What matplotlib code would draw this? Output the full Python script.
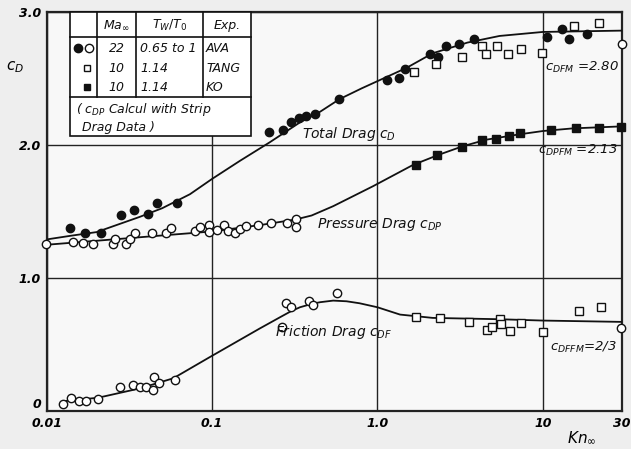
import numpy as np
import matplotlib
matplotlib.use("Agg")
import matplotlib.pyplot as plt
from matplotlib.patches import Rectangle

plt.rcParams['font.family'] = ['DejaVu Sans']
plt.rcParams['mathtext.fontset'] = 'dejavusans'

# ---- total drag c_D ----
kn_total_line = [0.01, 0.0144, 0.02, 0.0366, 0.05, 0.0735, 0.1, 0.147, 0.223, 0.34, 0.45, 0.59, 0.8, 1.0, 1.5, 2.16, 3.5, 5.48, 10, 30]
cd_total_line = [1.29, 1.32, 1.345, 1.46, 1.525, 1.63, 1.745, 1.88, 2.02, 2.17, 2.25, 2.345, 2.425, 2.48, 2.58, 2.69, 2.77, 2.82, 2.85, 2.86]

kn_total_ava = [0.01383, 0.01704, 0.02129, 0.02801, 0.03383, 0.04112, 0.0466, 0.06104,
                0.2213, 0.2667, 0.2993, 0.3359, 0.3722, 0.4179, 0.586,
                1.143, 1.349, 1.472, 2.089, 2.339, 2.611, 3.113, 3.846, 10.66, 13.03, 14.38, 18.4]
cd_total_ava = [1.374, 1.341, 1.341, 1.474, 1.511, 1.481, 1.562, 1.562,
                2.095, 2.113, 2.171, 2.201, 2.220, 2.233, 2.346,
                2.489, 2.504, 2.569, 2.684, 2.659, 2.744, 2.759, 2.799, 2.812, 2.870, 2.798, 2.835]
kn_total_tang = [1.664, 2.25, 3.264, 4.31, 4.557, 5.284, 6.156, 7.413, 9.93, 15.41, 21.73]
cd_total_tang = [2.547, 2.609, 2.659, 2.747, 2.682, 2.747, 2.684, 2.720, 2.689, 2.897, 2.920]
kn_total_open = [30.0]
cd_total_open = [2.757]

# ---- pressure drag c_DP ----
kn_press_line = [0.01, 0.02, 0.05, 0.1, 0.2, 0.32, 0.4, 0.54, 0.94, 1.64, 2.33, 3.27, 4.55, 7.2, 10, 15.2, 30]
cd_press_line = [1.25, 1.28, 1.32, 1.35, 1.40, 1.44, 1.47, 1.54, 1.69, 1.85, 1.925, 1.99, 2.04, 2.08, 2.105, 2.125, 2.14]

kn_press_ava = [0.0099, 0.01451, 0.0165, 0.01918, 0.02533, 0.02604, 0.03035, 0.03209, 0.03402,
                0.04309, 0.05281, 0.05613, 0.07873, 0.08439, 0.09632, 0.09632, 0.1069, 0.1187,
                0.1251, 0.1379, 0.1483, 0.1615, 0.19, 0.2282, 0.2851, 0.3197, 0.323]
cd_press_ava = [1.252, 1.267, 1.263, 1.256, 1.256, 1.293, 1.252, 1.293, 1.338,
                1.338, 1.340, 1.374, 1.356, 1.383, 1.398, 1.346, 1.361, 1.402,
                1.357, 1.336, 1.370, 1.389, 1.398, 1.411, 1.411, 1.447, 1.383]
kn_press_ko = [1.721, 2.291, 3.264, 4.31, 5.236, 6.237, 7.311, 11.25, 15.78, 21.83, 29.8]
cd_press_ko = [1.850, 1.925, 1.987, 2.038, 2.043, 2.068, 2.092, 2.113, 2.126, 2.130, 2.139]

# ---- friction drag c_DF ----
kn_fric_line = [0.013, 0.0205, 0.0366, 0.0583, 0.0968, 0.194, 0.262, 0.3, 0.34, 0.4, 0.45, 0.54, 0.65, 0.78, 1.0, 1.37, 2.16, 5.48, 10, 30]
cd_fric_line = [0.075, 0.10, 0.17, 0.246, 0.405, 0.62, 0.71, 0.75, 0.78, 0.805, 0.818, 0.83, 0.825, 0.81, 0.78, 0.725, 0.70, 0.69, 0.68, 0.67]

kn_fric_ava = [0.01255, 0.01396, 0.01574, 0.01722, 0.02051, 0.02786, 0.03337, 0.03648, 0.04,
               0.04465, 0.04366, 0.04789, 0.05959, 0.263, 0.2792, 0.3022, 0.3862, 0.4083, 0.5731, 29.52]
cd_fric_ava = [0.050, 0.098, 0.075, 0.075, 0.092, 0.182, 0.199, 0.182, 0.182,
               0.256, 0.160, 0.208, 0.233, 0.634, 0.810, 0.780, 0.827, 0.797, 0.889, 0.622]
kn_fric_tang = [1.721, 2.377, 3.573, 4.62, 4.921, 5.482, 5.611, 6.362, 7.418, 10.02, 16.52, 22.34]
cd_fric_tang = [0.705, 0.697, 0.667, 0.609, 0.634, 0.689, 0.652, 0.604, 0.659, 0.596, 0.754, 0.780]

x_ticks = [0.01, 0.1, 1.0, 10, 30]
x_labels = ["0.01", "0.1", "1.0", "10", "30"]
y_ticks = [0, 1, 2, 3]
y_labels = ["0", "1.0", "2.0", "3.0"]

W, H = 631, 449
fig = plt.figure(figsize=(W / 100, H / 100), dpi=100, facecolor='#eeeeee')
L, R, T, B = 46.7, 621.7, 12.0, 411.0
ax = fig.add_axes([L / W, (H - B) / H, (R - L) / W, (B - T) / H])
ax.set_facecolor('#f8f8f8')


def px(x, y):
    # pixel position in the picture -> axes fraction
    return (x - L) / (R - L), (B - y) / (B - T)


ax.set_xscale('log')
ax.set_xlim(0.01, 30)
ax.set_ylim(0, 3)
ax.set_xticks(x_ticks)
ax.set_xticklabels(x_labels)
ax.xaxis.set_minor_locator(matplotlib.ticker.NullLocator())
ax.set_yticks(y_ticks)
ax.set_yticklabels(y_labels)
ax.tick_params(length=0, labelsize=9, pad=4)
for lab in ax.get_xticklabels() + ax.get_yticklabels():
    lab.set_fontstyle('italic')
    lab.set_fontweight('bold')
ax.get_yticklabels()[0].set_verticalalignment('bottom')
ax.grid(True, color='#222222', lw=1.0)
for sp in ax.spines.values():
    sp.set_linewidth(1.6)
    sp.set_color('#222222')

lc = '#111111'
ax.plot(kn_total_line, cd_total_line, color=lc, lw=1.3, zorder=3)
ax.plot(kn_press_line, cd_press_line, color=lc, lw=1.3, zorder=3)
ax.plot(kn_fric_line, cd_fric_line, color=lc, lw=1.3, zorder=3)

filled_c = dict(ls='none', marker='o', ms=6, mfc=lc, mec=lc, zorder=4, clip_on=False)
open_c = dict(ls='none', marker='o', ms=6, mfc='white', mec=lc, mew=1.0, zorder=4, clip_on=False)
open_s = dict(ls='none', marker='s', ms=5.5, mfc='white', mec=lc, mew=1.0, zorder=4, clip_on=False)
filled_s = dict(ls='none', marker='s', ms=5.5, mfc=lc, mec=lc, zorder=4, clip_on=False)

ax.plot(kn_total_ava, cd_total_ava, **filled_c)
ax.plot(kn_total_tang, cd_total_tang, **open_s)
ax.plot(kn_total_open, cd_total_open, **open_c)
ax.plot(kn_press_ava, cd_press_ava, **open_c)
ax.plot(kn_press_ko, cd_press_ko, **filled_s)
ax.plot(kn_fric_ava, cd_fric_ava, **open_c)
ax.plot(kn_fric_tang, cd_fric_tang, **open_s)

# curve labels
lbl = dict(fontsize=10, fontstyle='italic', color=lc, zorder=5)
ax.text(0.349, 2.08, r"Total Drag $c_D$", va='center', ha='left', **lbl)
ax.text(0.43, 1.405, r"Pressure Drag $c_{DP}$", va='center', ha='left', **lbl)
ax.text(0.239, 0.594, r"Friction Drag $c_{DF}$", va='center', ha='left', **lbl)
fm = dict(fontsize=9.5, fontstyle='italic', color=lc, zorder=5)
ax.text(10.3, 2.58, r"$c_{DFM}$ =2.80", va='center', ha='left', **fm)
ax.text(9.3, 1.96, r"$c_{DPFM}$ =2.13", va='center', ha='left', **fm)
ax.text(11.0, 0.48, r"$c_{DFFM}$=2/3", va='center', ha='left', **fm)

# axis labels
ax.text(*px(15, 67), r"$c_D$", transform=ax.transAxes, fontsize=11, ha='center', va='center')
ax.text(*px(582, 438), r"$Kn_\infty$", transform=ax.transAxes, fontsize=11, ha='center', va='center')

# legend table
tx0, tx1, ty0, ty1 = 70, 251, 12.3, 136
x0, y0 = px(tx0, ty1)
x1, y1 = px(tx1, ty0)
ax.add_patch(Rectangle((x0, y0), x1 - x0, y1 - y0, transform=ax.transAxes, facecolor='white',
                       edgecolor=lc, lw=1.2, zorder=6, clip_on=False))
for yy in [36.7, 96.7]:
    a, b = px(tx0, yy)
    c, d = px(tx1, yy)
    ax.plot([a, c], [b, d], transform=ax.transAxes, color=lc, lw=1.2, zorder=7, clip_on=False)
for xx in [97.3, 135.7, 203.3]:
    a, b = px(xx, ty0)
    c, d = px(xx, 96.7)
    ax.plot([a, c], [b, d], transform=ax.transAxes, color=lc, lw=1.2, zorder=7, clip_on=False)

tt = dict(transform=ax.transAxes, fontsize=9, fontstyle='italic', color=lc, va='center', zorder=8)
ax.text(*px(116.5, 25), r"$Ma_\infty$", ha='center', **tt)
ax.text(*px(169.5, 25), r"$T_W/T_0$", ha='center', **tt)
ax.text(*px(227, 25), "Exp.", ha='center', **tt)
rows = [("22", "0.65 to 1", "AVA", 48.3), ("10", "1.14", "TANG", 68.3), ("10", "1.14", "KO", 87.3)]
for ma, tw, ex, yy in rows:
    ax.text(*px(116.5, yy), ma, ha='center', **tt)
    ax.text(*px(140, yy), tw, ha='left', **tt)
    ax.text(*px(206, yy), ex, ha='left', **tt)
mk = dict(transform=ax.transAxes, zorder=8, clip_on=False)
ax.plot(*px(78.3, 48.3), **filled_c | mk)
ax.plot(*px(89.3, 48.3), **open_c | mk)
ax.plot(*px(87.3, 68.3), **(open_s | mk | dict(ms=4.5)))
ax.plot(*px(87.3, 87.3), **(filled_s | mk | dict(ms=4.5)))
ax.text(*px(76, 110), r"( $c_{DP}$ Calcul with Strip", ha='left', **tt)
ax.text(*px(82, 127.5), "Drag Data )", ha='left', **tt)

fig.savefig("out.png", dpi=100, facecolor=fig.get_facecolor())
